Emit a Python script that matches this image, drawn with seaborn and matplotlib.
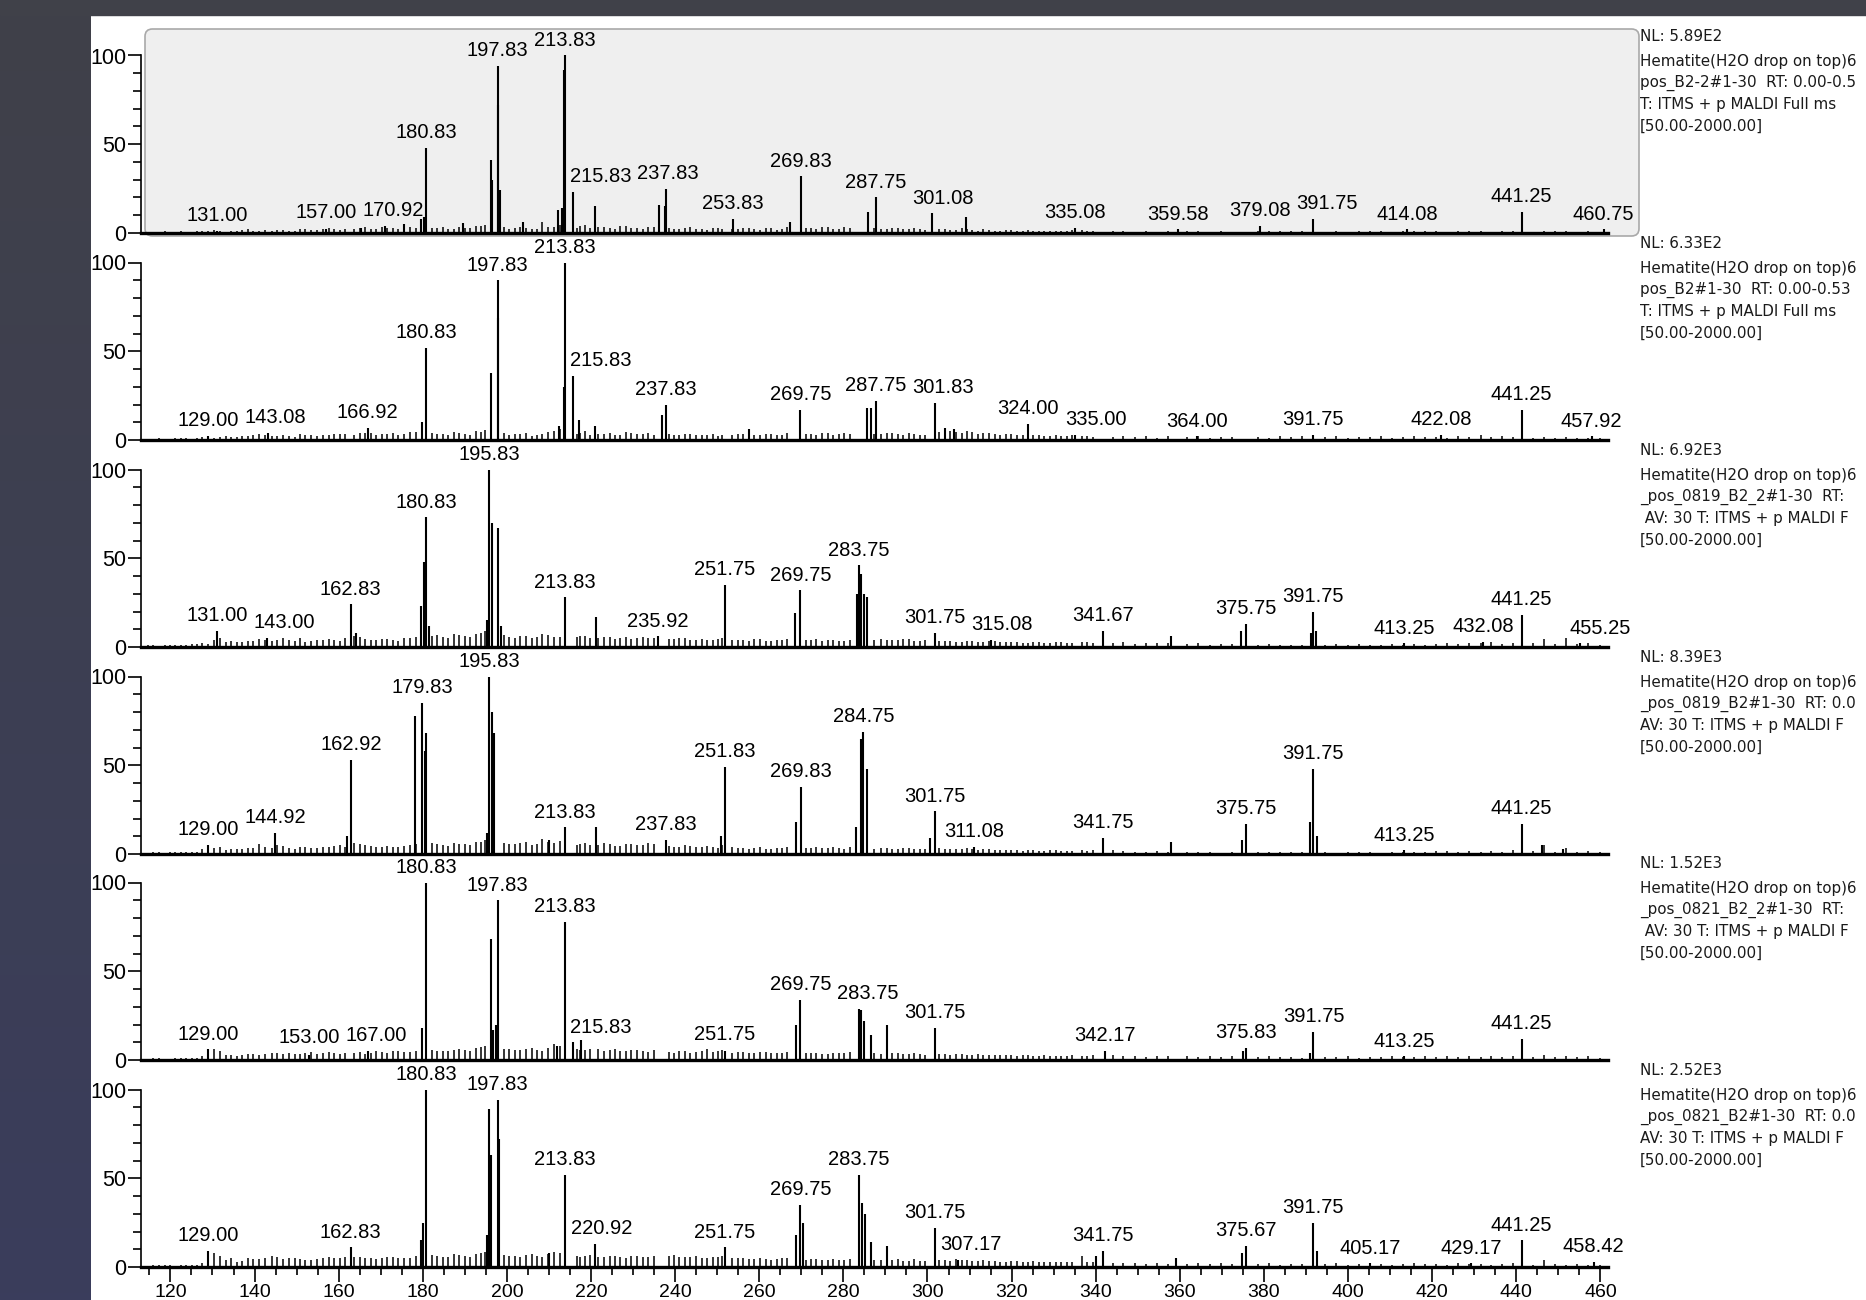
import numpy as np
import matplotlib
matplotlib.use("Agg")
import matplotlib.pyplot as plt
import seaborn as sns
from matplotlib.patches import FancyBboxPatch, Rectangle
from matplotlib.ticker import FixedLocator, MultipleLocator

# ---- data (m/z, relative abundance %) ----
# baseline "grass": two interleaved sets of small noise sticks
noise_mz = [114.6, 117.3, 119.9, 122.4, 125.2, 127.6, 130.3, 133.1, 135.8, 138.4, 141.0, 144.1,
            146.7, 149.5, 152.0, 154.8, 157.6, 160.2, 163.7, 166.3, 168.9, 171.6, 174.2, 176.9,
            183.4, 186.1, 188.7, 191.3, 193.9,
            200.6, 203.2, 205.9, 208.4, 211.1,
            217.4, 219.8, 223.0, 225.7, 228.3, 230.9, 233.6,
            239.7, 242.3, 244.9, 247.6, 250.2,
            254.9, 257.5, 260.1, 262.8, 265.4,
            272.3, 274.9, 277.6, 280.2,
            288.9, 291.6, 294.2, 296.8, 299.5,
            304.1, 306.7, 309.4, 312.0, 314.6, 317.3, 319.9, 322.6, 325.2, 327.8, 330.5, 333.1,
            336.7, 339.3,
            344.0, 346.6, 349.3, 351.9, 354.5, 357.2,
            361.8, 364.4, 367.1, 369.7, 372.3,
            378.6, 381.2, 383.9, 386.5, 389.1,
            394.6, 397.2, 399.9, 402.5, 405.1, 407.8, 410.4, 413.0, 415.7, 418.3, 420.9, 423.6,
            426.2, 428.8, 431.5, 434.1, 436.7, 439.3,
            443.9, 446.6, 449.2, 451.8, 454.5, 457.1, 459.8]

noise_1 = [0.5, 0.8, 0.6, 1.0, 0.7, 1.2, 1.5, 0.8, 1.1, 2.0, 1.4, 1.0, 1.8, 1.3, 2.2, 1.6, 2.8, 1.9, 2.5, 3.2, 2.1, 3.0, 2.4, 3.4,
           3.0, 2.2, 3.6, 2.6, 4.0,
           2.4, 3.1, 2.0, 6.0, 3.2,
           3.8, 2.6, 3.4, 2.2, 4.2, 2.8, 3.5,
           2.0, 3.0, 2.4, 1.8, 2.6,
           2.2, 3.0, 1.6, 2.8, 2.4,
           2.6, 3.2, 2.0, 3.4,
           2.4, 3.0, 2.2, 2.6, 1.8,
           2.0, 1.6, 2.4, 1.4, 1.8, 1.2, 1.6, 1.0, 1.4, 1.2, 0.9, 1.3,
           1.5, 1.0,
           0.9, 1.2, 0.8, 1.1, 0.7, 1.3,
           0.9, 1.1, 0.7, 1.0, 0.8,
           1.2, 0.9, 1.4, 1.0, 1.3,
           0.8, 1.1, 0.7, 1.0, 0.9, 1.2, 0.8, 1.0, 1.3, 0.9, 1.1, 0.8, 1.2, 0.9, 1.0, 0.7, 1.1, 0.9,
           0.8, 1.2, 0.9, 1.1, 0.7, 1.0, 0.6]
noise_2 = [0.6, 0.9, 0.7, 1.2, 0.8, 1.6, 1.3, 2.0, 1.5, 2.4, 3.6, 2.0, 2.6, 1.8, 3.0, 2.2, 2.8, 3.4, 2.6, 4.2, 3.0, 3.6, 2.8, 4.4,
           3.4, 2.8, 4.0, 3.0, 4.6,
           2.8, 3.6, 2.4, 3.2, 5.0,
           4.0, 3.0, 3.6, 2.6, 4.4, 3.2, 3.8,
           2.8, 3.4, 2.6, 3.0, 2.4,
           3.2, 6.0, 2.6, 3.4, 3.0,
           3.6, 4.0, 3.0, 3.8,
           3.4, 4.0, 3.0, 3.6, 2.8,
           5.0, 4.4, 4.8, 3.6, 4.2, 3.0, 3.4, 2.6, 3.0, 2.4, 2.8, 2.2,
           2.0, 1.6,
           1.8, 2.2, 1.6, 2.0, 1.4, 2.4,
           1.6, 2.0, 1.4, 1.8, 1.5,
           1.8, 1.4, 2.0, 1.6, 2.2,
           1.6, 2.0, 1.4, 1.8, 1.6, 2.2, 1.4, 1.8, 2.0, 1.6, 1.9, 1.4, 2.4, 1.8, 2.6, 1.6, 2.0, 1.5,
           1.4, 1.8, 1.2, 1.6, 1.0, 1.4, 1.0]
noise_3 = [1.0, 0.8, 1.2, 1.4, 1.6, 2.4, 4.2, 3.0, 2.6, 3.6, 4.4, 3.2, 5.0, 3.6, 3.0, 4.0, 4.6, 3.4, 6.0, 4.4, 3.8, 4.6, 3.6, 5.2,
           7.0, 5.0, 6.6, 5.4, 8.0,
           5.6, 6.2, 4.8, 7.4, 5.4,
           6.0, 5.2, 5.6, 4.6, 5.8, 4.8, 5.2,
           4.6, 5.0, 4.2, 3.8, 4.4,
           4.0, 3.6, 4.4, 3.2, 3.8,
           4.2, 3.6, 4.0, 3.4,
           4.4, 3.8, 4.6, 3.6, 4.0,
           3.6, 3.0, 3.4, 2.8, 3.2, 2.6, 3.0, 2.4, 2.8, 2.2, 2.6, 2.4,
           2.6, 2.0,
           2.2, 2.6, 1.8, 2.4, 2.0, 2.2,
           1.6, 2.0, 1.4, 1.8, 1.6,
           1.2, 1.6, 1.0, 1.4, 1.2,
           1.4, 1.8, 1.2, 1.6, 1.0, 1.4, 1.8, 1.2, 1.6, 1.4, 1.8, 2.2, 1.6, 2.4, 2.0, 2.6, 1.8, 2.2,
           2.0, 4.4, 1.6, 5.0, 1.8, 2.4, 1.4]
noise_4 = [0.8, 1.0, 0.9, 1.2, 1.4, 2.6, 3.4, 2.4, 2.8, 3.2, 5.6, 3.6, 4.4, 3.0, 3.8, 3.2, 4.2, 4.8, 6.4, 5.0, 4.0, 4.6, 3.8, 4.8,
           5.6, 4.6, 5.8, 5.0, 6.6,
           5.8, 6.4, 5.0, 8.4, 6.0,
           5.6, 4.8, 6.0, 4.4, 5.4, 5.0, 6.2,
           4.2, 4.8, 3.8, 4.4, 3.6,
           3.4, 3.0, 3.8, 2.8, 3.6,
           3.6, 3.2, 3.8, 3.0,
           3.2, 2.8, 3.4, 2.6, 3.0,
           3.0, 2.6, 3.2, 2.4, 2.6, 2.0, 2.4, 1.8, 2.2, 1.6, 2.0, 1.8,
           2.2, 2.0,
           2.4, 1.8, 1.4, 1.2, 1.6, 1.0,
           1.4, 1.0, 1.2, 0.8, 1.0,
           1.0, 1.4, 0.9, 1.2, 1.0,
           1.2, 0.8, 1.0, 0.9, 1.2, 0.8, 1.0, 1.4, 1.0, 1.2, 1.6, 1.8, 1.4, 1.6, 1.2, 1.8, 1.4, 2.0,
           1.6, 5.0, 1.4, 3.4, 1.2, 1.6, 1.0]
noise_5 = [0.8, 1.0, 0.7, 0.9, 1.2, 2.0, 6.4, 2.6, 2.2, 3.4, 3.0, 4.2, 3.6, 3.2, 4.0, 3.6, 4.4, 3.4, 4.0, 3.6, 4.8, 4.2, 5.0, 4.6,
           5.2, 4.8, 6.2, 5.0, 7.6,
           6.0, 5.4, 6.8, 5.2, 9.0,
           5.8, 6.4, 5.2, 6.0, 4.8, 5.6, 4.6,
           4.2, 5.0, 4.4, 6.4, 4.8,
           4.6, 4.0, 4.4, 3.8, 4.2,
           4.0, 3.6, 4.2, 3.8,
           3.6, 4.0, 3.4, 3.8, 3.0,
           3.6, 3.2, 3.0, 3.4, 2.8, 3.0, 2.6, 2.8, 2.4, 2.6, 2.2, 2.4,
           2.2, 2.6,
           2.6, 2.0, 2.4, 1.8, 2.2, 2.0,
           2.4, 1.8, 2.2, 1.6, 2.0,
           1.8, 2.0, 1.6, 1.8, 1.4,
           1.8, 1.6, 2.0, 1.4, 1.8, 1.6, 2.0, 1.8, 1.6, 2.0, 1.8, 2.2, 1.6, 2.0, 1.8, 2.2, 1.6, 2.0,
           1.6, 2.6, 1.8, 2.2, 1.6, 2.0, 1.4]
noise_6 = [0.8, 1.0, 0.9, 1.2, 1.0, 2.2, 8.0, 4.0, 3.0, 5.2, 4.6, 6.0, 4.4, 5.2, 3.8, 4.6, 5.6, 4.8, 5.8, 5.0, 4.6, 5.4, 4.8, 5.2,
           6.2, 5.4, 6.8, 5.6, 8.0,
           6.4, 5.8, 7.2, 5.6, 8.4,
           5.8, 6.6, 5.4, 6.2, 5.0, 6.4, 5.6,
           7.0, 5.4, 6.0, 5.0, 5.6,
           5.2, 4.6, 5.0, 4.2, 4.8,
           4.4, 4.0, 4.6, 3.8,
           3.8, 4.2, 3.6, 4.6, 3.2,
           4.0, 4.4, 3.8, 3.2, 3.6, 3.0, 3.4, 2.8, 3.2, 2.6, 3.0, 2.8,
           6.0, 2.6,
           2.4, 2.0, 2.2, 1.8, 2.0, 1.6,
           1.8, 2.2, 1.6, 2.0, 1.6,
           1.6, 2.0, 1.4, 1.8, 1.6,
           1.6, 2.0, 1.4, 1.8, 1.5, 1.8, 1.4, 1.6, 2.0, 1.6, 1.8, 1.4, 2.0, 1.6, 1.8, 1.4, 1.6, 2.0,
           1.4, 4.0, 1.8, 1.4, 1.6, 1.2, 1.0]

noise_mz_b = [115.9, 118.6, 121.1, 123.8, 126.4, 128.9, 131.7, 134.4, 137.1, 139.7, 142.5, 145.4,
              148.1, 150.8, 153.4, 156.2, 158.9, 161.5, 165.0, 167.6, 170.3, 172.9, 175.5, 178.3,
              182.1, 184.7, 187.4, 190.0, 192.6, 194.8,
              199.3, 201.9, 204.5, 207.1, 209.7, 212.6,
              216.6, 218.6, 221.6, 224.4, 227.0, 229.6, 232.3, 234.9,
              238.6, 241.0, 243.6, 246.3, 248.9, 251.2,
              253.6, 256.2, 258.8, 261.5, 264.1, 266.7,
              271.0, 273.6, 276.3, 278.9, 281.6,
              287.2, 290.3, 292.9, 295.5, 298.2,
              302.8, 305.4, 308.1, 310.7, 313.3, 316.0, 318.6, 321.3, 323.9, 326.5, 329.2, 331.8, 334.4, 338.0]

noise_b_1 = [0.6, 0.9, 0.5, 0.8, 1.0, 0.9, 1.3, 1.1, 1.6, 1.2, 1.8, 1.5, 1.2, 2.0, 1.7, 2.4, 2.0, 2.2, 2.8, 2.4, 3.4, 2.6, 3.8, 2.8,
             2.6, 3.4, 2.4, 3.0, 3.8, 4.6,
             3.6, 2.6, 3.0, 2.4, 3.4, 4.4,
             3.0, 4.4, 3.2, 2.6, 3.8, 3.0, 2.4, 3.2,
             2.6, 2.2, 3.4, 2.0, 2.8, 2.4,
             2.4, 2.8, 2.0, 2.6, 1.8, 3.2,
             2.8, 2.4, 3.6, 2.2, 3.0,
             2.6, 2.0, 2.8, 2.4, 2.2,
             2.2, 1.8, 2.6, 1.6, 2.0, 1.4, 1.8, 1.2, 1.6, 1.0, 1.4, 1.2, 1.6, 1.1]
noise_b_2 = [0.7, 0.8, 1.0, 0.9, 1.1, 1.4, 1.8, 1.6, 2.2, 2.6, 2.8, 2.2, 2.4, 3.2, 2.6, 3.0, 3.6, 3.2, 3.8, 4.0, 3.4, 3.8, 3.2, 4.6,
             3.8, 3.2, 4.4, 3.6, 5.0, 5.6,
             4.2, 3.2, 3.8, 3.0, 4.4, 6.0,
             3.6, 4.8, 3.4, 4.2, 3.0, 3.8, 3.4, 3.0,
             3.2, 3.0, 3.6, 2.8, 3.4, 2.6,
             3.0, 3.6, 2.8, 3.4, 2.6, 3.8,
             3.4, 3.0, 4.2, 3.6, 3.2,
             3.6, 4.2, 3.2, 3.8, 3.0,
             4.6, 5.2, 4.0, 4.6, 3.8, 3.4, 3.2, 3.0, 2.8, 2.6, 2.4, 2.2, 2.6, 2.0]
noise_b_3 = [0.9, 1.1, 1.0, 1.3, 1.5, 1.9, 5.0, 3.4, 2.8, 3.2, 4.0, 3.8, 4.2, 4.8, 3.4, 3.8, 4.2, 5.0, 5.4, 4.0, 4.4, 4.0, 4.8, 5.8,
             6.4, 5.8, 7.2, 6.0, 7.6, 9.0,
             6.8, 5.2, 6.0, 5.4, 6.6, 5.8,
             5.4, 6.2, 5.0, 5.6, 5.2, 4.6, 5.4, 5.0,
             4.4, 4.8, 4.0, 4.6, 4.0, 4.8,
             4.2, 3.8, 4.6, 3.4, 4.0, 4.4,
             3.8, 4.4, 3.8, 3.6, 4.2,
             4.0, 4.2, 3.8, 4.4, 3.6,
             3.2, 3.6, 3.0, 3.4, 2.8, 3.2, 2.6, 3.0, 2.4, 2.8, 2.2, 2.6, 2.4, 2.8]
noise_b_4 = [0.9, 0.8, 1.1, 1.0, 1.3, 2.2, 4.2, 2.8, 3.0, 3.6, 4.0, 4.8, 3.4, 3.8, 3.6, 4.0, 4.6, 4.2, 5.6, 4.4, 4.2, 4.0, 4.4, 5.4,
             6.0, 5.2, 6.4, 5.4, 7.0, 8.0,
             6.2, 5.6, 6.8, 5.4, 6.6, 7.2,
             5.2, 6.0, 5.2, 5.8, 4.6, 5.6, 4.8, 5.4,
             4.6, 4.0, 4.4, 3.8, 4.2, 5.0,
             3.8, 3.2, 3.6, 3.0, 3.4, 3.8,
             3.4, 3.8, 3.2, 3.6, 4.2,
             3.0, 3.4, 2.8, 3.2, 2.8,
             3.4, 2.8, 3.0, 2.6, 2.8, 2.2, 2.4, 2.0, 2.2, 1.8, 2.0, 1.6, 1.8, 1.6]
noise_b_5 = [0.9, 0.8, 1.0, 0.9, 1.4, 3.6, 5.0, 3.0, 2.6, 3.2, 3.6, 3.8, 4.0, 3.4, 4.4, 3.8, 4.0, 3.8, 4.6, 4.0, 4.4, 4.8, 4.4, 5.2,
             5.6, 5.0, 5.8, 5.4, 6.8, 8.0,
             6.4, 5.8, 6.2, 5.6, 7.0, 8.0,
             6.0, 5.4, 6.2, 5.6, 5.2, 5.8, 5.0, 5.4,
             4.6, 4.8, 4.2, 5.2, 4.6, 5.8,
             4.2, 4.4, 4.0, 4.6, 4.0, 4.4,
             3.8, 4.2, 3.6, 4.0, 4.4,
             3.8, 3.6, 3.8, 3.2, 3.4,
             3.4, 3.0, 3.2, 2.8, 3.0, 2.6, 2.8, 2.4, 2.6, 2.2, 2.4, 2.2, 2.6, 2.4]
noise_b_6 = [0.9, 1.1, 0.8, 1.0, 1.2, 3.0, 6.0, 4.8, 3.6, 4.4, 5.0, 5.4, 5.0, 4.6, 4.2, 5.0, 5.2, 5.4, 5.6, 5.2, 5.0, 5.6, 5.0, 6.0,
             6.6, 5.8, 7.2, 6.0, 7.4, 8.6,
             6.8, 6.2, 7.0, 6.0, 7.4, 8.0,
             6.2, 6.0, 5.8, 6.4, 5.6, 6.0, 5.4, 6.0,
             6.2, 5.8, 5.6, 5.2, 5.4, 6.0,
             5.0, 4.8, 4.6, 4.4, 4.6, 5.0,
             4.2, 4.4, 4.0, 4.2, 4.6,
             4.0, 3.8, 4.4, 3.6, 3.4,
             4.2, 3.6, 4.0, 3.4, 3.8, 3.2, 3.0, 3.2, 2.8, 3.0, 2.6, 2.8, 3.0, 2.6]

peaks_mz_1 = [131.00, 157.00, 165.2, 170.92, 175.6, 179.6, 180.30, 180.83, 189.5, 196.20, 196.50, 197.83, 198.00,
              198.40, 203.9, 212.20, 213.00, 213.50, 213.83, 215.83, 221.00, 236.20, 237.50, 237.83, 253.83,
              267.20, 269.83, 285.90, 287.75, 301.08, 309.10, 335.08, 359.58, 379.08, 391.75, 414.08, 441.25, 460.75]
peaks_int_1 = [1.2, 2.0, 3.0, 4.2, 5.0, 8.0, 9.0, 48, 5.5, 41, 30, 94, 72,
               24, 6, 13, 14, 92, 100, 23, 15, 16, 15, 25, 8,
               6, 32, 12, 20, 11, 9, 3, 2, 4, 8, 2, 12, 2]
labels_1 = [131.00, 157.00, 170.92, 180.83, 197.83, 213.83, 215.83, 237.83, 253.83, 269.83, 287.75, 301.08,
            335.08, 359.58, 379.08, 391.75, 414.08, 441.25, 460.75]

peaks_mz_2 = [129.00, 143.08, 166.92, 179.9, 180.83, 196.20, 197.83, 198.00, 212.50, 213.50, 213.83, 215.83, 217.20,
              221.0, 236.9, 237.83, 257.6, 269.75, 285.50, 286.50, 287.75, 301.83, 304.2, 306.4, 324.00, 335.00,
              364.00, 391.75, 422.08, 441.25, 457.92]
peaks_int_2 = [2.5, 4, 7, 10, 52, 38, 90, 69, 8, 30, 100, 36, 11,
               8, 14, 20, 6, 17, 18, 18, 22, 21, 7, 6, 9, 3,
               2, 3, 3, 17, 2]
labels_2 = [129.00, 143.08, 166.92, 180.83, 197.83, 213.83, 215.83, 237.83, 269.75, 287.75, 301.83, 324.00,
            335.00, 364.00, 391.75, 422.08, 441.25, 457.92]

peaks_mz_3 = [131.00, 143.00, 162.83, 164.2, 179.5, 180.30, 180.83, 181.5, 195.20, 195.83, 196.40, 197.83, 198.5,
              213.83, 221.2, 235.92, 251.75, 268.6, 269.75, 283.20, 283.75, 284.30, 284.90, 285.5, 301.75, 315.08,
              341.67, 358.0, 374.6, 375.75, 391.2, 391.75, 392.4, 413.25, 432.08, 441.25, 455.25]
peaks_int_3 = [9, 5, 24, 8, 23, 48, 73, 12, 15, 100, 70, 67, 12,
               28, 17, 6, 35, 19, 32, 30, 46, 41, 30, 28, 8, 4,
               9, 6, 9, 13, 8, 20, 9, 2, 3, 18, 2]
labels_3 = [131.00, 143.00, 162.83, 180.83, 195.83, 213.83, 235.92, 251.75, 269.75, 283.75, 301.75, 315.08,
            341.67, 375.75, 391.75, 413.25, 432.08, 441.25, 455.25]

peaks_mz_4 = [129.00, 144.92, 162.00, 162.92, 178.20, 179.83, 180.50, 180.83, 195.30, 195.83, 196.40, 197.00, 210.0,
              213.83, 221.1, 237.83, 251.00, 251.83, 268.8, 269.83, 283.0, 284.20, 284.75, 285.50, 300.5, 301.75,
              311.08, 341.75, 358.0, 374.8, 375.75, 391.00, 391.75, 392.5, 413.25, 441.25, 446.0, 451.0]
peaks_int_4 = [5, 12, 10, 53, 78, 85, 58, 68, 12, 100, 80, 68, 8,
               15, 15, 8, 10, 49, 18, 38, 15, 65, 69, 48, 9, 24,
               4, 9, 7, 8, 17, 18, 48, 10, 2, 17, 5, 3]
labels_4 = [129.00, 144.92, 162.92, 179.83, 195.83, 213.83, 237.83, 251.83, 269.83, 284.75, 301.75, 311.08,
            341.75, 375.75, 391.75, 413.25, 441.25]

peaks_mz_5 = [129.00, 153.00, 167.00, 179.80, 180.83, 196.20, 196.80, 197.40, 197.83, 212.0, 213.83, 215.83, 217.5,
              251.75, 268.80, 269.75, 283.75, 284.30, 285.00, 286.50, 290.40, 301.75, 342.17, 375.00, 375.83,
              391.00, 391.75, 413.25, 441.25]
peaks_int_5 = [6, 3, 5, 18, 100, 68, 17, 20, 90, 8, 78, 10, 11,
               5, 20, 34, 29, 28, 22, 14, 20, 18, 5, 5, 7,
               4, 16, 2, 12]
labels_5 = [129.00, 153.00, 167.00, 180.83, 197.83, 213.83, 215.83, 251.75, 269.75, 283.75, 301.75, 342.17,
            375.83, 391.75, 413.25, 441.25]

peaks_mz_6 = [129.00, 162.83, 179.50, 180.00, 180.83, 195.20, 195.83, 196.30, 197.83, 198.20, 210.0, 213.83, 220.92,
              251.75, 268.80, 269.75, 270.30, 283.75, 284.50, 285.20, 286.50, 290.30, 301.75, 307.17, 340.0,
              341.75, 359.0, 374.70, 375.67, 391.75, 392.5, 405.17, 429.17, 441.25, 458.42]
peaks_int_6 = [9, 11, 15, 25, 100, 18, 89, 63, 94, 72, 8, 52, 13,
               11, 18, 35, 25, 52, 36, 30, 14, 12, 22, 4, 6,
               9, 5, 8, 12, 25, 9, 2, 2, 15, 3]
labels_6 = [129.00, 162.83, 180.83, 197.83, 213.83, 220.92, 251.75, 269.75, 283.75, 301.75, 307.17, 341.75,
            375.67, 391.75, 405.17, 429.17, 441.25, 458.42]

# header lines as far as they are visible before the screenshot's right edge
header_1 = ["NL: 5.89E2", "Hematite(H2O drop on top)6", "pos_B2-2#1-30  RT: 0.00-0.5",
            "T: ITMS + p MALDI Full ms", "[50.00-2000.00]"]
header_2 = ["NL: 6.33E2", "Hematite(H2O drop on top)6", "pos_B2#1-30  RT: 0.00-0.53",
            "T: ITMS + p MALDI Full ms", "[50.00-2000.00]"]
header_3 = ["NL: 6.92E3", "Hematite(H2O drop on top)6", "_pos_0819_B2_2#1-30  RT:",
            " AV: 30 T: ITMS + p MALDI F", "[50.00-2000.00]"]
header_4 = ["NL: 8.39E3", "Hematite(H2O drop on top)6", "_pos_0819_B2#1-30  RT: 0.0",
            "AV: 30 T: ITMS + p MALDI F", "[50.00-2000.00]"]
header_5 = ["NL: 1.52E3", "Hematite(H2O drop on top)6", "_pos_0821_B2_2#1-30  RT:",
            " AV: 30 T: ITMS + p MALDI F", "[50.00-2000.00]"]
header_6 = ["NL: 2.52E3", "Hematite(H2O drop on top)6", "_pos_0821_B2#1-30  RT: 0.0",
            "AV: 30 T: ITMS + p MALDI F", "[50.00-2000.00]"]

x_ticks = [120, 140, 160, 180, 200, 220, 240, 260, 280, 300, 320, 340, 360, 380, 400, 420, 440, 460]
y_ticks = [0, 50, 100]

spectra = [
    (noise_1, noise_b_1, peaks_mz_1, peaks_int_1, labels_1, header_1),
    (noise_2, noise_b_2, peaks_mz_2, peaks_int_2, labels_2, header_2),
    (noise_3, noise_b_3, peaks_mz_3, peaks_int_3, labels_3, header_3),
    (noise_4, noise_b_4, peaks_mz_4, peaks_int_4, labels_4, header_4),
    (noise_5, noise_b_5, peaks_mz_5, peaks_int_5, labels_5, header_5),
    (noise_6, noise_b_6, peaks_mz_6, peaks_int_6, labels_6, header_6),
]

# ---- figure ----
sns.set_style("white")
plt.rcParams["font.family"] = ["Liberation Sans", "DejaVu Sans"]

W, H = 1866, 1300
fig = plt.figure(figsize=(W / 100, H / 100), dpi=100)
fig.patch.set_facecolor("white")


def fx(px):
    return px / W


def fy(py):
    return 1 - py / H


left_px, right_px = 141, 1608
zero_px = [233, 440, 647, 854, 1060, 1267]
unit = 1.775      # pixels per % abundance
ytop = 116.6
LAB_W = 15.4      # label width in m/z units
LAB_H = 10.0      # label height in % units


def place_labels(mz, inten, labels):
    # rough imitation of Xcalibur: label above the local max, moved sideways off taller sticks,
    # then pushed right where two labels would collide
    items = []
    for m in labels:
        y = inten[np.abs(mz - m) <= 1.2].max() + 3.2
        x = m
        for step in [0, 1, -1, 2, -2, 3, -3, 4, -4, 5, -5, 6, -6, 7, -7, 8, 9, 10, 11, 12]:
            xx = m + step * 0.8
            if not np.any(inten[np.abs(mz - xx) < LAB_W / 2 + 0.2] > y - 0.3):
                x = xx
                break
        items.append([x, y, m])
    items.sort()
    placed = []
    for it in items:
        for p in placed:
            if abs(it[1] - p[1]) < LAB_H and it[0] < p[0] + LAB_W + 0.6:
                it[0] = p[0] + LAB_W + 0.6
        placed.append(it)
    return placed


# grey selection box behind the first spectrum
fig.add_artist(FancyBboxPatch((fx(145), fy(236)), fx(1639) - fx(145), (236 - 29) / H,
                              boxstyle="round,pad=0,rounding_size=0.004", mutation_aspect=W / H,
                              transform=fig.transFigure, fc="#efefef", ec="#a9a9a9", lw=1.2, zorder=0))

for i, (noise, noise_b, pmz, pint, labels, header) in enumerate(spectra):
    z = zero_px[i]
    ax = fig.add_axes([fx(left_px), fy(z), fx(right_px) - fx(left_px), ytop * unit / H], zorder=1)
    ax.set_facecolor("none")
    ax.set_xlim(113, 461.8)
    ax.set_ylim(0, ytop)

    n_a = min(len(noise_mz), len(noise))
    n_b = min(len(noise_mz_b), len(noise_b))
    mz = np.array(noise_mz[:n_a] + noise_mz_b[:n_b] + list(pmz))
    inten = np.array(noise[:n_a] + noise_b[:n_b] + list(pint))
    ax.vlines(mz[:n_a + n_b], 0, inten[:n_a + n_b], color="black", lw=1.1)
    ax.vlines(pmz, 0, pint, color="black", lw=1.5)

    sns.despine(ax=ax, top=True, right=True)
    ax.spines["left"].set_bounds(0, 100)
    ax.spines["left"].set_linewidth(1.2)
    ax.spines["bottom"].set_linewidth(2.4)
    ax.spines["left"].set_color("black")
    ax.spines["bottom"].set_color("black")

    ax.set_yticks(y_ticks)
    ax.set_yticklabels([str(t) for t in y_ticks])
    ax.yaxis.set_minor_locator(FixedLocator([10, 20, 30, 40, 60, 70, 80, 90]))
    ax.tick_params(axis="y", which="major", left=True, length=9.5, width=1.2, pad=1, labelsize=15.5,
                   color="black", labelcolor="black")
    ax.tick_params(axis="y", which="minor", left=True, length=6, width=1.2, color="black")

    if i < len(spectra) - 1:
        ax.set_xticks([])
        ax.tick_params(axis="x", which="both", bottom=False, labelbottom=False)
    else:
        ax.set_xticks(x_ticks)
        ax.set_xticklabels([str(t) for t in x_ticks])
        ax.xaxis.set_minor_locator(MultipleLocator(5))
        ax.tick_params(axis="x", which="major", bottom=True, length=11, width=1.2, pad=1, labelsize=14,
                       color="black", labelcolor="black")
        ax.tick_params(axis="x", which="minor", bottom=True, length=6, width=1.2, color="black")

    for x, y, m in place_labels(mz, inten, labels):
        ax.text(x, y, f"{m:.2f}", ha="center", va="bottom", fontsize=14.5,
                color="black", clip_on=False)

    # instrument header on the right
    y100 = z - 100 * unit
    ys = [y100 - 19, y100 + 6, y100 + 27.5, y100 + 49, y100 + 70.5]
    for line, yy in zip(header, ys):
        fig.text(fx(1640), fy(yy), line, fontsize=10.9, family="DejaVu Sans",
                 va="center", ha="left", color="#1a1a1a")

# dark frame of the screenshot (left strip with slight blue gradient, top bar)
axg = fig.add_axes([0, 0, fx(91), 1], zorder=10)
top_c = np.array([0x40, 0x41, 0x49]) / 255
bot_c = np.array([0x3a, 0x3d, 0x5c]) / 255
t = np.linspace(0, 1, 200)[:, None, None]
axg.imshow(top_c * (1 - t) + bot_c * t, aspect="auto", extent=(0, 1, 0, 1))
axg.set_axis_off()
fig.add_artist(Rectangle((0, fy(15)), 1, 15 / H, transform=fig.transFigure,
                         color="#404149", zorder=11))

fig.savefig("out.png", dpi=100)
